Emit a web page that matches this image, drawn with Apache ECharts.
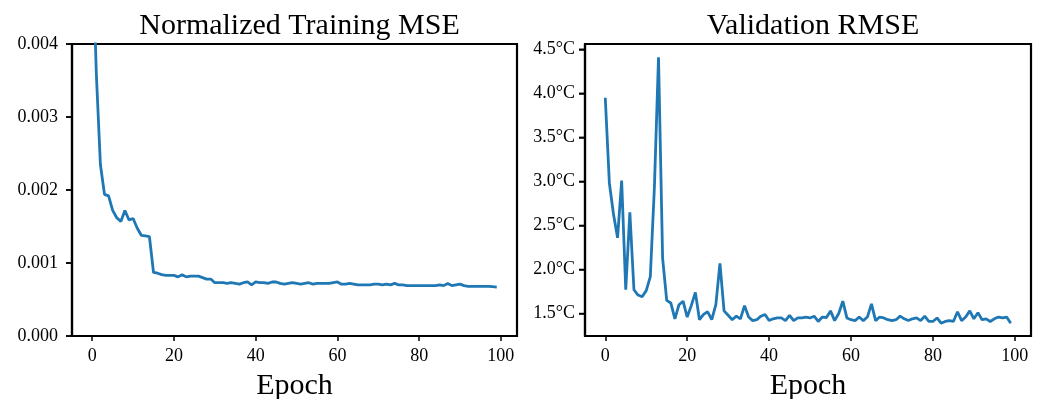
<!DOCTYPE html>
<html>
<head>
<meta charset="utf-8">
<script src="https://cdn.jsdelivr.net/npm/echarts@6/dist/echarts.min.js"></script>
<style>
html,body{margin:0;padding:0;background:#fff;}
#c{width:1044px;height:399px;}
</style>
</head>
<body>
<div id="c"></div>
<script>
const epochs = Array.from({length:100},(_, i) => i);
const trainMSE = [
 5.5e-3, 3.6e-3, 2.35e-3, 1.94e-3, 1.92e-3, 1.72e-3, 1.62e-3, 1.57e-3, 1.72e-3, 1.59e-3,
 1.61e-3, 1.48e-3, 1.38e-3, 1.37e-3, 1.36e-3, 0.87e-3, 0.86e-3, 0.84e-3, 0.83e-3, 0.83e-3,
 0.83e-3, 0.81e-3, 0.84e-3, 0.81e-3, 0.82e-3, 0.82e-3, 0.82e-3, 0.80e-3, 0.78e-3, 0.78e-3,
 0.73e-3, 0.73e-3, 0.73e-3, 0.72e-3, 0.73e-3, 0.72e-3, 0.71e-3, 0.73e-3, 0.74e-3, 0.70e-3,
 0.74e-3, 0.73e-3, 0.73e-3, 0.72e-3, 0.74e-3, 0.74e-3, 0.72e-3, 0.71e-3, 0.72e-3, 0.73e-3,
 0.72e-3, 0.71e-3, 0.72e-3, 0.73e-3, 0.71e-3, 0.72e-3, 0.72e-3, 0.72e-3, 0.72e-3, 0.73e-3,
 0.74e-3, 0.71e-3, 0.71e-3, 0.72e-3, 0.71e-3, 0.70e-3, 0.70e-3, 0.70e-3, 0.70e-3, 0.71e-3,
 0.71e-3, 0.70e-3, 0.71e-3, 0.70e-3, 0.72e-3, 0.70e-3, 0.70e-3, 0.69e-3, 0.69e-3, 0.69e-3,
 0.69e-3, 0.69e-3, 0.69e-3, 0.69e-3, 0.69e-3, 0.70e-3, 0.69e-3, 0.72e-3, 0.69e-3, 0.70e-3,
 0.71e-3, 0.69e-3, 0.68e-3, 0.68e-3, 0.68e-3, 0.68e-3, 0.68e-3, 0.68e-3, 0.675e-3, 0.67e-3
];
const valRMSE = [
 3.95, 2.98, 2.63, 2.36, 3.01, 1.77, 2.65, 1.77, 1.71, 1.69,
 1.76, 1.92, 2.94, 4.41, 2.13, 1.65, 1.62, 1.44, 1.60, 1.64,
 1.46, 1.59, 1.74, 1.43, 1.49, 1.52, 1.43, 1.60, 2.07, 1.53,
 1.48, 1.43, 1.47, 1.44, 1.59, 1.46, 1.42, 1.43, 1.47, 1.49,
 1.42, 1.44, 1.45, 1.45, 1.42, 1.48, 1.42, 1.45, 1.45, 1.46,
 1.45, 1.47, 1.41, 1.46, 1.455, 1.53, 1.42, 1.50, 1.64, 1.45,
 1.43, 1.42, 1.46, 1.42, 1.46, 1.61, 1.42, 1.46, 1.45, 1.43,
 1.42, 1.43, 1.47, 1.44, 1.42, 1.44, 1.45, 1.42, 1.47, 1.41,
 1.41, 1.45, 1.39, 1.41, 1.42, 1.41, 1.52, 1.42, 1.46, 1.53,
 1.44, 1.51, 1.43, 1.44, 1.41, 1.44, 1.46, 1.45, 1.46, 1.39
];
const xTicks = [0, 20, 40, 60, 80, 100];
const trainTicks = [0, 0.001, 0.002, 0.003, 0.004];
const valTicks = [1.5, 2.0, 2.5, 3.0, 3.5, 4.0, 4.5];
const titles = ['Normalized Training MSE', 'Validation RMSE'];
const xName = 'Epoch';

const FONT = '"Liberation Serif", "DejaVu Serif", serif';
const AXLINE = {show:true, onZero:false, lineStyle:{color:'#000', width:2.2}};
const TICK = {color:'#000', width:1.5};
const XMIN = -4.95, XMAX = 103.95;
const grids = [
  {left: 72, top: 44, width: 445, height: 292},
  {left: 585, top: 44, width: 446, height: 292}
];
function xAxis(gi){
  return {
    type:'value', gridIndex: gi, position:'bottom', min:XMIN, max:XMAX,
    name: xName, nameLocation:'middle', nameGap: 35,
    nameTextStyle:{fontFamily:FONT, fontSize:30, color:'#000'},
    axisLine:AXLINE,
    splitLine:{show:false},
    axisTick:{show:true, inside:false, length:5, customValues:xTicks, lineStyle:TICK},
    axisLabel:{show:true, margin:11, customValues:xTicks, fontFamily:FONT, fontSize:18, color:'#000'}
  };
}
function yAxis(gi, mn, mx, ticks, margin, fmt){
  return {
    type:'value', gridIndex:gi, position:'left', min:mn, max:mx,
    axisLine:AXLINE, splitLine:{show:false},
    axisTick:{show:true, inside:false, length:6, customValues:ticks, lineStyle:TICK},
    axisLabel:{show:true, margin:margin, customValues:ticks, fontFamily:FONT, fontSize:18, color:'#000', formatter:fmt}
  };
}
const option = {
  animation:false,
  backgroundColor:'#fff',
  title: titles.map((t,i)=>({
    text:t, left: grids[i].left + grids[i].width/2, top: 6, textAlign:'center',
    textStyle:{fontFamily:FONT, fontSize:30, fontWeight:'normal', color:'#000'}
  })),
  grid: grids.map(g=>Object.assign({show:true, borderColor:'#000', borderWidth:2.2, backgroundColor:'transparent', containLabel:false, outerBoundsMode:'none'}, g)),
  xAxis:[xAxis(0), xAxis(1)],
  yAxis:[
    yAxis(0, 0, 0.004, trainTicks, 14, v=>Number(v).toFixed(3)),
    yAxis(1, 1.245, 4.56, valTicks, 10, v=>Number(v).toFixed(1)+'°C')
  ],
  series:[
    {type:'line', xAxisIndex:0, yAxisIndex:0, showSymbol:false, clip:true,
     data: epochs.map((e,i)=>[e, trainMSE[i]]),
     lineStyle:{color:'#1f77b4', width:2.8}, itemStyle:{color:'#1f77b4'}},
    {type:'line', xAxisIndex:1, yAxisIndex:1, showSymbol:false, clip:true,
     data: epochs.map((e,i)=>[e, valRMSE[i]]),
     lineStyle:{color:'#1f77b4', width:2.8}, itemStyle:{color:'#1f77b4'}}
  ]
};
const chart = echarts.init(document.getElementById('c'), null, {renderer:'canvas'});
chart.setOption(option);

// y-axis tick marks placed through the axis scales
const yTickSets = [trainTicks, valTicks];
const tickEls = [];
yTickSets.forEach((ticks, gi) => {
  ticks.forEach(v => {
    const p = chart.convertToPixel({xAxisIndex:gi, yAxisIndex:gi}, [XMIN, v]);
    tickEls.push({type:'line', silent:true, z:10,
      shape:{x1:p[0]-6, y1:p[1], x2:p[0], y2:p[1]},
      style:{stroke:'#000', lineWidth:1.5}});
  });
});
chart.setOption({graphic:{elements:tickEls}});
</script>
</body>
</html>
